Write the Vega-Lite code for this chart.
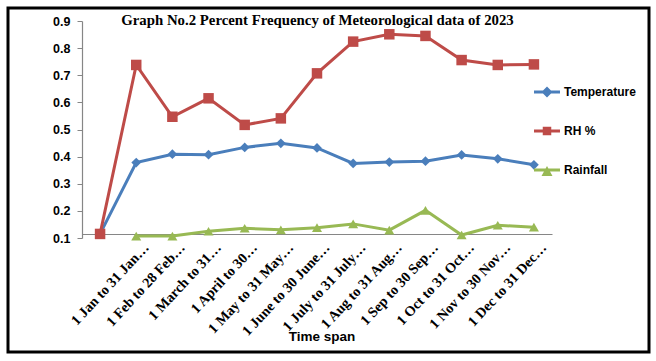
{
  "$schema": "https://vega.github.io/schema/vega-lite/v6.json",
  "width": 641,
  "height": 344,
  "autosize": {"type": "none"},
  "padding": {"left": 8, "top": 8, "right": 7, "bottom": 9},
  "background": "white",
  "title": {
    "text": "Graph No.2 Percent Frequency of Meteorological data of 2023",
    "font": "Liberation Serif",
    "fontSize": 14.8,
    "fontWeight": "bold",
    "color": "black",
    "anchor": "middle",
    "frame": "group",
    "baseline": "bottom",
    "offset": -35,
    "dx": -11
  },
  "data": {
    "values": [
      {"period": "", "series": "Temperature", "value": 0.115},
      {"period": "1 Jan to 31 Jan…", "series": "Temperature", "value": 0.378},
      {"period": "1 Feb to 28 Feb…", "series": "Temperature", "value": 0.409},
      {"period": "1 March to 31…", "series": "Temperature", "value": 0.407},
      {"period": "1 April to 30…", "series": "Temperature", "value": 0.434},
      {"period": "1 May to 31 May…", "series": "Temperature", "value": 0.449},
      {"period": "1 June to 30 June…", "series": "Temperature", "value": 0.432},
      {"period": "1 July to 31 July…", "series": "Temperature", "value": 0.375},
      {"period": "1 Aug to 31 Aug…", "series": "Temperature", "value": 0.380},
      {"period": "1 Sep to 30 Sep…", "series": "Temperature", "value": 0.383},
      {"period": "1 Oct to 31 Oct…", "series": "Temperature", "value": 0.406},
      {"period": "1 Nov to 30 Nov…", "series": "Temperature", "value": 0.392},
      {"period": "1 Dec to 31 Dec…", "series": "Temperature", "value": 0.370},
      {"period": "", "series": "RH %", "value": 0.115},
      {"period": "1 Jan to 31 Jan…", "series": "RH %", "value": 0.738},
      {"period": "1 Feb to 28 Feb…", "series": "RH %", "value": 0.547},
      {"period": "1 March to 31…", "series": "RH %", "value": 0.615},
      {"period": "1 April to 30…", "series": "RH %", "value": 0.517},
      {"period": "1 May to 31 May…", "series": "RH %", "value": 0.541},
      {"period": "1 June to 30 June…", "series": "RH %", "value": 0.707},
      {"period": "1 July to 31 July…", "series": "RH %", "value": 0.824},
      {"period": "1 Aug to 31 Aug…", "series": "RH %", "value": 0.851},
      {"period": "1 Sep to 30 Sep…", "series": "RH %", "value": 0.845},
      {"period": "1 Oct to 31 Oct…", "series": "RH %", "value": 0.756},
      {"period": "1 Nov to 30 Nov…", "series": "RH %", "value": 0.738},
      {"period": "1 Dec to 31 Dec…", "series": "RH %", "value": 0.740},
      {"period": "1 Jan to 31 Jan…", "series": "Rainfall", "value": 0.107},
      {"period": "1 Feb to 28 Feb…", "series": "Rainfall", "value": 0.107},
      {"period": "1 March to 31…", "series": "Rainfall", "value": 0.125},
      {"period": "1 April to 30…", "series": "Rainfall", "value": 0.136},
      {"period": "1 May to 31 May…", "series": "Rainfall", "value": 0.130},
      {"period": "1 June to 30 June…", "series": "Rainfall", "value": 0.138},
      {"period": "1 July to 31 July…", "series": "Rainfall", "value": 0.152},
      {"period": "1 Aug to 31 Aug…", "series": "Rainfall", "value": 0.129},
      {"period": "1 Sep to 30 Sep…", "series": "Rainfall", "value": 0.202},
      {"period": "1 Oct to 31 Oct…", "series": "Rainfall", "value": 0.111},
      {"period": "1 Nov to 30 Nov…", "series": "Rainfall", "value": 0.147},
      {"period": "1 Dec to 31 Dec…", "series": "Rainfall", "value": 0.140}
    ]
  },
  "encoding": {
    "x": {
      "field": "period",
      "type": "nominal",
      "sort": null,
      "scale": {
        "type": "point",
        "domain": ["", "1 Jan to 31 Jan…", "1 Feb to 28 Feb…", "1 March to 31…", "1 April to 30…", "1 May to 31 May…", "1 June to 30 June…", "1 July to 31 July…", "1 Aug to 31 Aug…", "1 Sep to 30 Sep…", "1 Oct to 31 Oct…", "1 Nov to 30 Nov…", "1 Dec to 31 Dec…"],
        "range": [74, 544],
        "padding": 0.5
      },
      "axis": {
        "title": "Time span",
        "titleFont": "Liberation Sans",
        "titleFontSize": 13.5,
        "titleFontWeight": "bold",
        "titleColor": "black",
        "titleX": 313.5,
        "titleY": 102,
        "titleBaseline": "middle",
        "titleAlign": "center",
        "offset": -118,
        "labelAngle": -47,
        "labelAlign": "right",
        "labelBaseline": "middle",
        "labelFont": "Liberation Serif",
        "labelFontSize": 14.3,
        "labelFontWeight": "bold",
        "labelColor": "black",
        "labelOffset": 10,
        "labelPadding": 11,
        "labelOverlap": false,
        "labelLimit": 300,
        "ticks": false,
        "domainColor": "#868686",
        "domainWidth": 1.2,
        "grid": false
      }
    },
    "y": {
      "field": "value",
      "type": "quantitative",
      "scale": {"domain": [0.1, 0.9], "range": [230, 13], "nice": false, "zero": false},
      "axis": {
        "title": null,
        "offset": -74,
        "values": [0.1, 0.2, 0.3, 0.4, 0.5, 0.6, 0.7, 0.8, 0.9],
        "format": ".1f",
        "labelFont": "Liberation Sans",
        "labelFontSize": 12.5,
        "labelFontWeight": "bold",
        "labelColor": "black",
        "tickColor": "#868686",
        "tickSize": 5,
        "labelPadding": 7,
        "domainColor": "#868686",
        "domainWidth": 1.2,
        "grid": false
      }
    },
    "color": {
      "field": "series",
      "type": "nominal",
      "scale": {"domain": ["Temperature", "RH %", "Rainfall"], "range": ["#4a7ebb", "#be4b48", "#98b954"]},
      "legend": {
        "title": null,
        "orient": "none",
        "legendX": 533,
        "legendY": 78,
        "padding": 0,
        "rowPadding": 27,
        "symbolSize": 100,
        "labelFont": "Liberation Sans",
        "labelFontSize": 12,
        "labelFontWeight": "bold",
        "labelColor": "black",
        "labelOffset": 11,
        "encode": {
          "symbols": {
            "update": {
              "shape": {"signal": "datum.value === 'Temperature' ? 'M-2.6,-0.3H2.6V0.3H-2.6Z M0,-1.1L1.1,0L0,1.1L-1.1,0Z' : (datum.value === 'RH %' ? 'M-2.6,-0.3H2.6V0.3H-2.6Z M-0.85,-0.85H0.85V0.85H-0.85Z' : 'M-2.6,-0.3H2.6V0.3H-2.6Z M0,-0.8L1.1,1.2H-1.1Z')"},
              "fill": {"signal": "scale('color', datum.value)"},
              "fillOpacity": {"value": 1},
              "opacity": {"value": 1},
              "strokeWidth": {"value": 0}
            }
          }
        }
      }
    }
  },
  "layer": [
    {"mark": {"type": "line", "strokeWidth": 3}},
    {
      "transform": [{"filter": "datum.series === 'Temperature'"}],
      "mark": {"type": "point", "filled": true, "opacity": 1, "size": 95, "shape": "diamond"}
    },
    {
      "transform": [{"filter": "datum.series === 'RH %'"}],
      "mark": {"type": "point", "filled": true, "opacity": 1, "size": 110, "shape": "square"}
    },
    {
      "transform": [{"filter": "datum.series === 'Rainfall'"}],
      "mark": {"type": "point", "filled": true, "opacity": 1, "size": 100, "shape": "triangle-up"}
    }
  ],
  "config": {
    "view": {"stroke": "black", "strokeWidth": 3}
  }
}
